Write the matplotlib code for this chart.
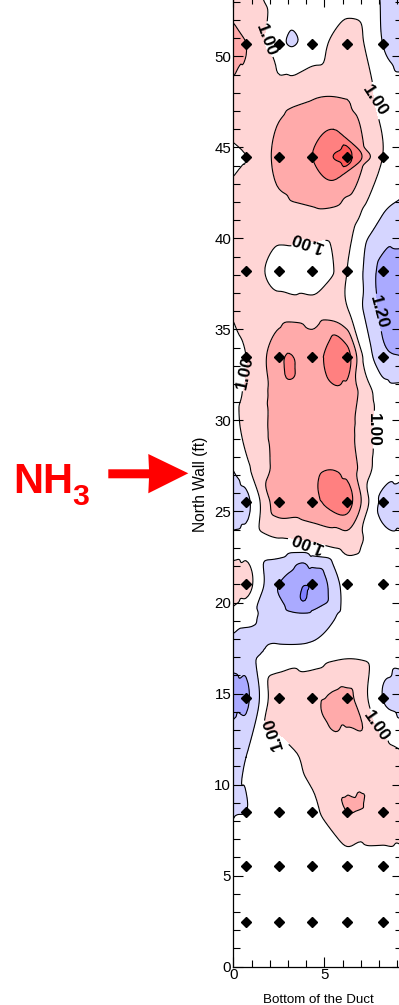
import numpy as np
import matplotlib
matplotlib.use('Agg')
import matplotlib.pyplot as plt
import matplotlib.tri as mtri
from matplotlib.patches import Polygon
from matplotlib.ticker import MultipleLocator

plt.rcParams['font.family'] = ['Liberation Sans', 'DejaVu Sans']

# ---------------- data ----------------
grid_x = [0.0, 0.7, 2.5, 4.35, 6.25, 8.2, 9.3]
grid_y = [0.0, 2.44, 5.5, 8.5, 11.5, 14.75, 17.5, 19.3, 21.0, 23.3, 25.5,
          27.5, 29.5, 31.5, 33.5, 36.0, 38.2, 41.3, 44.5, 47.5, 50.7, 53.3]
grid_values = [
    [1.05, 1.05, 1.05, 1.05, 1.05, 1.05, 1.05],
    [1.05, 1.05, 1.05, 1.05, 1.05, 1.05, 1.05],
    [1.06, 1.05, 1.05, 1.05, 1.05, 1.03, 1.03],
    [1.105, 1.10, 1.06, 1.02, 0.90, 0.95, 0.96],
    [1.14, 1.10, 1.05, 0.97, 0.94, 0.95, 0.99],
    [1.22, 1.22, 0.93, 0.92, 0.88, 1.10, 1.14],
    [1.15, 1.14, 1.09, 1.08, 1.03, 1.05, 1.06],
    [1.03, 1.07, 1.16, 1.18, 1.07, 1.04, 1.04],
    [0.95, 0.96, 1.20, 1.29, 1.06, 1.05, 1.05],
    [1.06, 1.05, 1.02, 1.00, 0.96, 1.07, 1.08],
    [1.17, 1.13, 0.85, 0.83, 0.76, 1.12, 1.14],
    [1.09, 1.02, 0.87, 0.82, 0.84, 1.05, 1.07],
    [1.03, 0.98, 0.87, 0.86, 0.87, 1.04, 1.06],
    [1.02, 0.99, 0.86, 0.855, 0.835, 1.05, 1.07],
    [1.04, 1.00, 0.83, 0.84, 0.76, 1.17, 1.20],
    [0.99, 0.96, 0.95, 0.95, 0.99, 1.22, 1.25],
    [0.97, 0.97, 1.03, 1.05, 1.00, 1.23, 1.24],
    [0.96, 0.95, 0.94, 0.92, 0.95, 1.10, 1.13],
    [1.01, 1.00, 0.87, 0.80, 0.675, 1.00, 1.05],
    [0.94, 0.94, 0.93, 0.895, 0.897, 1.03, 1.06],
    [0.87, 0.90, 1.07, 1.05, 0.94, 1.10, 1.14],
    [0.96, 0.97, 1.04, 1.05, 1.06, 1.11, 1.13],
]
extra_x = [2.9, 5.6, 5.5, 7.3, 3.2, 3.2, 3.2, 5.7, 4.0, 6.85, 5.5, 5.5]
extra_y = [33.4, 33.2, 25.9, 33.5, 50.9, 52.3, 49.5, 14.3, 20.9, 8.85, 46.0, 43.2]
extra_values = [0.795, 0.76, 0.755, 1.04, 1.112, 1.06, 1.03, 0.87, 1.302,
                0.893, 0.80, 0.80]

meas_x = [0.7, 2.5, 4.35, 6.25, 8.2]
meas_y = [2.44, 5.5, 8.5, 14.75, 21.0, 25.5, 33.5, 38.2, 44.5, 50.7]

levels = [0.5, 0.6, 0.7, 0.8, 0.9, 1.0, 1.1, 1.2, 1.3, 1.5]
band_colors = ['#FF2B2B', '#FF5555', '#FF8080', '#FFAAAA', '#FFD5D5',
               '#FFFFFF', '#D5D5FF', '#AAAAFF', '#8080FF']
plain_levels = [0.6, 0.7, 0.8, 0.9, 1.1, 1.3]

label_pos_100 = [(1.74, 50.9), (7.95, 47.6), (4.05, 39.9), (0.95, 32.6),
                 (7.67, 29.5), (4.05, 23.4), (2.4, 13.4), (7.9, 13.2)]
label_rot_100 = [-69, -57, 160, 78, -90, 158, 108, -55]
label_pos_120 = [(8.35, 36.0)]
label_rot_120 = [-75]

x_major = [0, 5]
y_major = list(range(0, 51, 5))

# ---------------- figure ----------------
W, H = 399, 1005
fig = plt.figure(figsize=(W / 100, H / 100), dpi=100)
ax_left_px, ax_bottom_px = 233.3, 966.5
xmax, ymax = 9.25, 53.25
ppu = 18.2
ax = fig.add_axes([ax_left_px / W, (H - ax_bottom_px) / H,
                   xmax * ppu / W, ymax * ppu / H])

gx, gy = np.meshgrid(grid_x, grid_y)
pts_x = np.concatenate([gx.ravel(), extra_x])
pts_y = np.concatenate([gy.ravel(), extra_y])
pts_v = np.concatenate([np.array(grid_values).ravel(), extra_values])

tri = mtri.Triangulation(pts_x, pts_y)
interp = mtri.CubicTriInterpolator(tri, pts_v, kind='geom')
refiner = mtri.UniformTriRefiner(tri)
tri_f, v_f = refiner.refine_field(pts_v, triinterpolator=interp, subdiv=4)

ax.tricontourf(tri_f, v_f, levels=levels, colors=band_colors)
ax.tricontour(tri_f, v_f, levels=plain_levels, colors='k', linewidths=0.8)
cs10 = ax.tricontour(tri_f, v_f, levels=[1.0], colors='k', linewidths=0.8)
cs12 = ax.tricontour(tri_f, v_f, levels=[1.2], colors='k', linewidths=0.8)

t10 = ax.clabel(cs10, manual=label_pos_100, inline=True, fmt='%.2f',
                fontsize=12.5, inline_spacing=2)
t12 = ax.clabel(cs12, manual=label_pos_120, inline=True, fmt='%.2f',
                fontsize=12.5, inline_spacing=2)
for texts, rots in ((t10, label_rot_100), (t12, label_rot_120)):
    for t, r in zip(texts, rots):
        t.set_rotation(r)
        t.set_fontweight('bold')
        t.set_color('black')

mx, my = np.meshgrid(meas_x, meas_y)
ax.plot(mx.ravel(), my.ravel(), linestyle='none', marker='D', color='k',
        markersize=4.6, zorder=5)

ax.set_xlim(0, xmax)
ax.set_ylim(0, ymax)
ax.set_xticks(x_major)
ax.set_yticks(y_major)
ax.xaxis.set_minor_locator(MultipleLocator(1))
ax.yaxis.set_minor_locator(MultipleLocator(1))
ax.tick_params(which='both', direction='in', top=True, right=True,
               width=0.8, colors='k', labelsize=10.8)
ax.tick_params(which='major', length=7)
ax.tick_params(which='minor', length=5)
ax.tick_params(axis='y', pad=1.5)
ax.tick_params(axis='x', pad=0.8)
for s in ax.spines.values():
    s.set_linewidth(0.9)

ax.set_xlabel('Bottom of the Duct', fontsize=9.6)
ax.xaxis.label.set_va('baseline')
ax.xaxis.set_label_coords((318 - ax_left_px) / (xmax * ppu),
                          (ax_bottom_px - 1002.8) / (ymax * ppu))
ax.set_ylabel('North Wall (ft)', fontsize=11.2)
ax.yaxis.set_label_coords((207.5 - ax_left_px) / (xmax * ppu),
                          (ax_bottom_px - 484) / (ymax * ppu))

# NH3 annotation with arrow
def fx(px):
    return px / W

def fy(py):
    return 1 - py / H

fig.text(fx(13), fy(493), 'NH', fontsize=30, fontweight='bold', color='red',
         ha='left', va='baseline')
fig.text(fx(72.5), fy(505), '3', fontsize=21.8, fontweight='bold', color='red',
         ha='left', va='baseline')
arrow_px = [(108.3, 469.3), (149, 469.3), (148.3, 454), (188.3, 473.3),
            (148.3, 493.3), (149, 478.3), (108.3, 478.3)]
arrow = Polygon([(fx(a), fy(b)) for a, b in arrow_px], closed=True,
                transform=fig.transFigure, facecolor='red', edgecolor='none')
fig.add_artist(arrow)

fig.savefig('out.png', dpi=100)
